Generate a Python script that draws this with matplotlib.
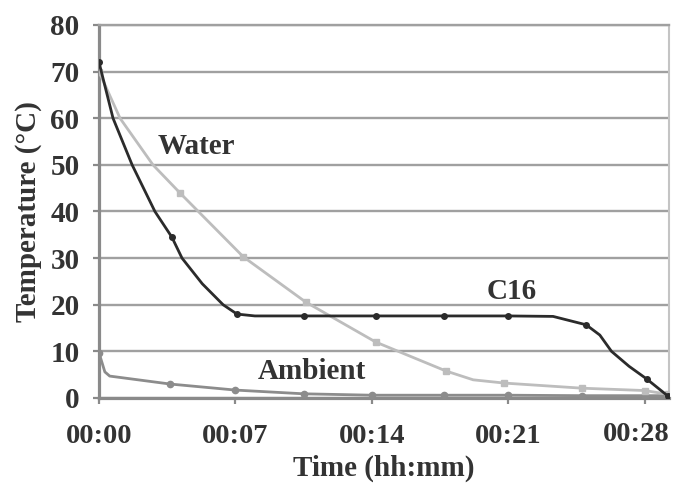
import matplotlib
matplotlib.use("Agg")
import matplotlib.pyplot as plt
from matplotlib.transforms import ScaledTranslation

# readings taken off the chart (time in minutes, temperature in degC)
c16_time = [0, 0.72, 1.7, 2.87, 3.74, 4.26, 5.3, 6.37, 7.08, 8.0, 10.5, 14.2, 17.7, 21.0, 23.3, 25.0, 25.7, 26.3, 27.2, 28.1, 29.2]
c16_temp = [72, 60, 50, 40, 34.5, 30, 24.5, 20, 18.0, 17.6, 17.6, 17.6, 17.6, 17.6, 17.5, 15.7, 13.5, 10, 6.8, 4.1, 0.4]
c16_marks = [0, 4, 8, 10, 11, 12, 13, 15, 19, 20]

water_time = [0, 1.08, 2.77, 4.15, 7.4, 10.6, 14.2, 17.8, 19.2, 20.8, 24.8, 28.0, 29.2]
water_temp = [70, 60, 50, 44, 30.3, 20.6, 12.0, 5.8, 3.9, 3.2, 2.1, 1.6, 0.8]
water_marks = [0, 3, 4, 5, 6, 7, 9, 10, 11, 12]

amb_time = [0, 0.3, 0.55, 3.64, 7.0, 10.5, 14.0, 17.7, 21.0, 24.8, 28.0, 29.2]
amb_temp = [9.7, 5.6, 4.7, 3.0, 1.7, 0.9, 0.6, 0.6, 0.6, 0.5, 0.5, 0.5]
amb_marks = [0, 3, 4, 5, 6, 7, 8, 9, 10, 11]

x_ticks = [0, 7, 14, 21, 28]
x_labels = ["00:00", "00:07", "00:14", "00:21", "00:28"]
y_ticks = [0, 10, 20, 30, 40, 50, 60, 70, 80]

plt.rcParams['font.family'] = ['Liberation Serif', 'DejaVu Serif']
plt.rcParams['font.weight'] = 'bold'

fig = plt.figure(figsize=(6.76, 4.88), dpi=100)
ax = fig.add_axes([99 / 676, 1 - 398 / 488, 570 / 676, 373 / 488])

ax.plot(amb_time, amb_temp, color='#8c8c8c', lw=2.0, marker='o', ms=4.5,
        markevery=amb_marks, zorder=3)
ax.plot(water_time, water_temp, color='#bdbdbd', lw=2.0, marker='s', ms=4.5,
        markevery=water_marks, zorder=4)
ax.plot(c16_time, c16_temp, color='#2b2b2b', lw=2.0, marker='o', ms=4,
        markevery=c16_marks, zorder=5)

ax.set_xlim(0, 29.25)
ax.set_ylim(0, 80)
ax.set_xticks(x_ticks)
ax.set_xticklabels(x_labels)
ax.set_yticks(y_ticks)

ax.grid(axis='y', color='#a0a0a0', lw=1.7)
ax.set_axisbelow(True)
for side in ['left', 'bottom']:
    ax.spines[side].set_color('#8a8a8a')
    ax.spines[side].set_linewidth(2.3)
ax.spines['top'].set_color('#a0a0a0')
ax.spines['top'].set_linewidth(1.7)
ax.spines['right'].set_color('#c4c4c4')
ax.spines['right'].set_linewidth(1.5)

ax.tick_params(axis='y', length=4, width=1.6, color='#8a8a8a', pad=10,
               labelsize=21, labelcolor='#333333')
ax.tick_params(axis='x', length=4, width=1.6, color='#8a8a8a', pad=15,
               labelsize=20.5, labelcolor='#333333')

# last time label sits a bit left of its tick, as in the original
last = ax.get_xticklabels()[-1]
last.set_transform(last.get_transform() + ScaledTranslation(-8 / 100, 2 / 100, fig.dpi_scale_trans))

ax.set_xlabel('Time (hh:mm)', fontsize=21, fontweight='bold', color='#333333', labelpad=4)
ax.set_ylabel('Temperature (°C)', fontsize=21, fontweight='bold', color='#333333', labelpad=6)

ax.text(5.0, 54.0, 'Water', fontsize=21, fontweight='bold', color='#333333', ha='center', va='center')
ax.text(21.2, 22.9, 'C16', fontsize=21, fontweight='bold', color='#333333', ha='center', va='center')
ax.text(10.9, 5.6, 'Ambient', fontsize=21, fontweight='bold', color='#333333', ha='center', va='center')

fig.savefig('out.png', dpi=100)
